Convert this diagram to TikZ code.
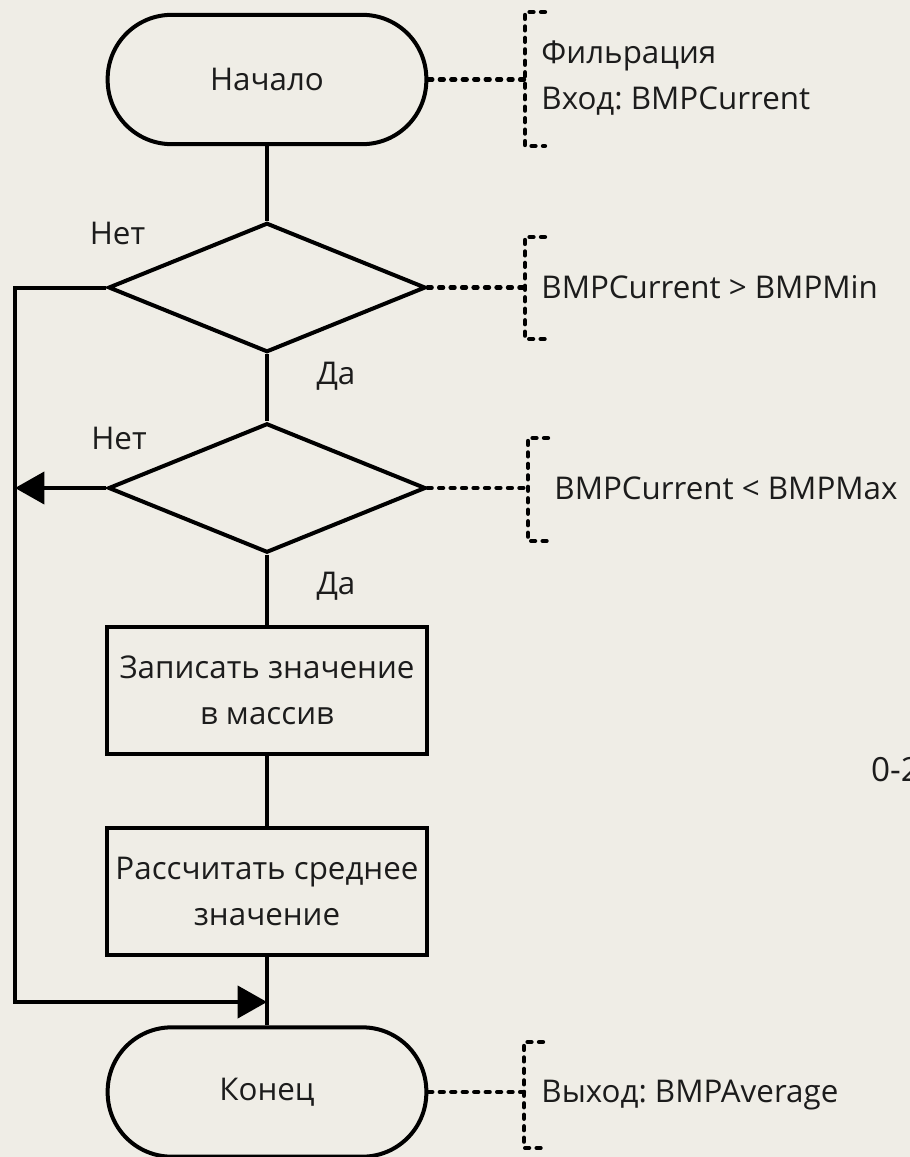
\documentclass[tikz,border=0pt]{standalone}
\usepackage{fontspec}
\setmainfont{Open Sans}
\usetikzlibrary{shapes.geometric,arrows.meta}
\definecolor{fon}{RGB}{239,237,230}
\definecolor{ink}{RGB}{28,28,28}
\frenchspacing

\begin{document}
\begin{tikzpicture}[x=0.75pt, y=-0.75pt, line width=3pt,
  every node/.style={font=\fontsize{23.5pt}{34.5pt}\selectfont, text=ink},
  terminal/.style={draw, rounded corners=48pt, minimum width=239pt, minimum height=97pt, inner sep=0pt},
  decision/.style={draw, diamond, minimum width=238pt, minimum height=97pt, inner sep=0pt},
  process/.style={draw, rectangle, minimum width=240pt, minimum height=95pt, align=center, inner sep=0pt},
  note/.style={dash pattern=on 3pt off 5.6pt, line width=3.2pt, line cap=round},
  tip/.style={-{Triangle[length=22pt, width=24pt]}}]
  \path[use as bounding box, fill=fon] (0,0) rectangle (910,1157);
  % блоки
  \node[terminal] (start) at (267,79.5) {Начало};
  \node[decision] (minchk) at (267,287.5) {};
  \node[decision] (maxchk) at (267,488) {};
  \node[process] (store) at (267,690.5) {Записать значение\\в массив};
  \node[process] (avg) at (267,891.5) {Рассчитать среднее\\значение};
  \node[terminal] (finish) at (267,1092) {Конец};
  % связи
  \draw (start.south) -- (minchk.north);
  \draw (minchk.south) -- (maxchk.north);
  \draw (maxchk.south) -- (store.north);
  \draw (store.south) -- (avg.north);
  \draw (avg.south) -- (finish.north);
  \coordinate (loopTop) at (15,287.5);
  \coordinate (loopMid) at (15,488);
  \coordinate (loopBot) at (15,1002);
  \coordinate (merge) at (267,1002);
  \draw[tip] (minchk.west) -- (loopTop) -- (loopBot) -- (merge);
  \draw[tip] (maxchk.west) -- (loopMid);
  \node (no1) at (117.5,233) {Нет};
  \node (no2) at (119,438) {Нет};
  \node (yes1) at (336,376) {Да};
  \node (yes2) at (336,586) {Да};
  % комментарии
  \coordinate (br1) at (525,79.5);
  \coordinate (br2) at (525,287.5);
  \coordinate (br3) at (528,488);
  \coordinate (br4) at (524,1092);
  \draw[note] (start.east) -- (br1);
  \draw[note] (545,12) -- (525,12) -- (525,146) -- (545,146);
  \node[anchor=west, align=left] (note1) at (535,78.5) {Фильрация\\Вход: BMPCurrent};
  \draw[note] (minchk.east) -- (br2);
  \draw[note] (545,237) -- (525,237) -- (525,339) -- (545,339);
  \node[anchor=west] (note2) at (535,287.5) {BMPCurrent > BMPMin};
  \draw[note] (maxchk.east) -- (br3);
  \draw[note] (548,438) -- (528,438) -- (528,541) -- (548,541);
  \node[anchor=west] (note3) at (548,488) {BMPCurrent < BMPMax};
  \draw[note] (finish.east) -- (br4);
  \draw[note] (543,1042) -- (524,1042) -- (524,1148) -- (543,1148);
  \node[anchor=west] (note4) at (535,1095) {Выход: BMPAverage};
  \node[anchor=west, inner sep=0pt, font=\fontsize{25pt}{30pt}\selectfont] (range) at (869,770) {0-2};
\end{tikzpicture}
\end{document}
